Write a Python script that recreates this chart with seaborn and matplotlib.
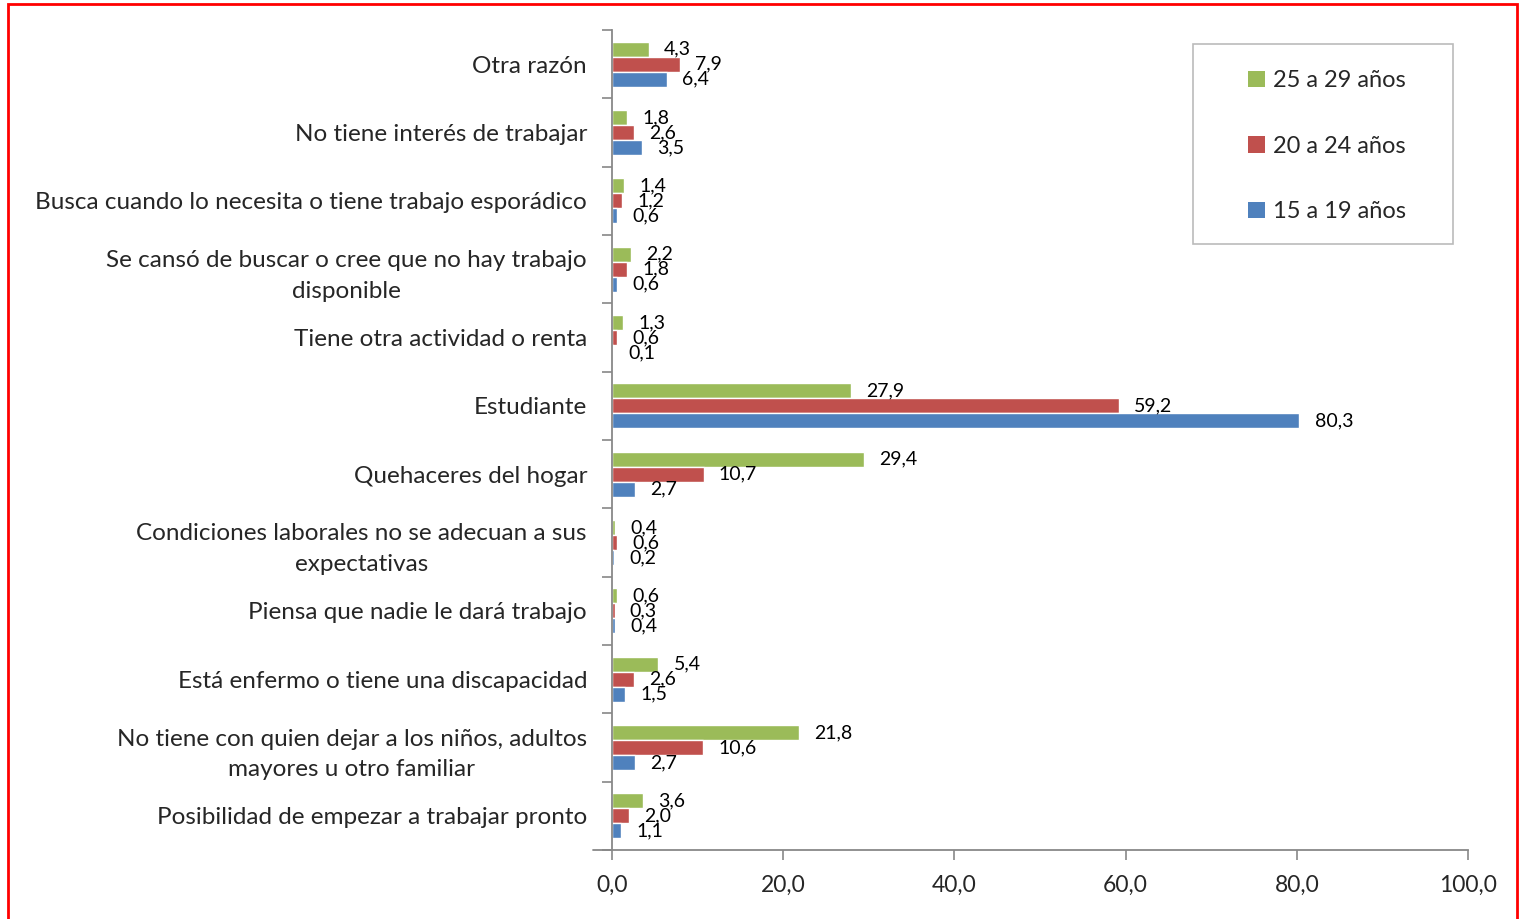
import pandas as pd
import numpy as np
import matplotlib.pyplot as plt
import seaborn as sns
from matplotlib.patches import Rectangle, Patch

sns.set_style("white")
plt.rcParams['font.family'] = ['Lato', 'DejaVu Sans']

# Data
categories = [
    "Otra razón",
    "No tiene interés de trabajar",
    "Busca cuando lo necesita o tiene trabajo esporádico",
    "Se cansó de buscar o cree que no hay trabajo\ndisponible",
    "Tiene otra actividad o renta",
    "Estudiante",
    "Quehaceres del hogar",
    "Condiciones laborales no se adecuan a sus\nexpectativas",
    "Piensa que nadie le dará trabajo",
    "Está enfermo o tiene una discapacidad",
    "No tiene con quien dejar a los niños, adultos\nmayores u otro familiar",
    "Posibilidad de empezar a trabajar pronto",
]
edad_25_29 = [4.3, 1.8, 1.4, 2.2, 1.3, 27.9, 29.4, 0.4, 0.6, 5.4, 21.8, 3.6]
edad_20_24 = [7.9, 2.6, 1.2, 1.8, 0.6, 59.2, 10.7, 0.6, 0.3, 2.6, 10.6, 2.0]
edad_15_19 = [6.4, 3.5, 0.6, 0.6, 0.1, 80.3, 2.7, 0.2, 0.4, 1.5, 2.7, 1.1]
groups = ["25 a 29 años", "20 a 24 años", "15 a 19 años"]
colors = ["#9BBB59", "#C0504D", "#4F81BD"]
xticks = [0, 20, 40, 60, 80, 100]

df = pd.DataFrame({
    "razon": categories * 3,
    "grupo": [groups[0]] * 12 + [groups[1]] * 12 + [groups[2]] * 12,
    "valor": edad_25_29 + edad_20_24 + edad_15_19,
})

fig = plt.figure(figsize=(15.19, 9.19), dpi=100)
ax = fig.add_axes([612 / 1519, 1 - 850 / 919, (1468 - 612) / 1519, (850 - 30) / 919])

sns.barplot(data=df, y="razon", x="valor", hue="grupo", hue_order=groups,
            order=categories, palette=colors, orient="h", width=0.66,
            saturation=1, legend=False, ax=ax)

for cont in ax.containers:
    labs = [f"{v:.1f}".replace(".", ",") for v in cont.datavalues]
    ax.bar_label(cont, labels=labs, padding=11, fontsize=14, color="black")

ax.set_xlim(0, 100)
ax.set_ylim(len(categories) - 0.5, -0.5)
ax.set_xticks(xticks)
ax.set_xticklabels([f"{t:.1f}".replace(".", ",") for t in xticks], fontsize=16.5)
ax.set_xlabel("")
ax.set_ylabel("")
ax.set_yticks(range(len(categories)))
ax.set_yticklabels(categories, fontsize=17.5, multialignment="center", linespacing=1.55)
ax.tick_params(axis="y", which="major", left=False, length=0, pad=18)
ax.set_yticks(np.arange(-0.5, len(categories) + 0.5, 1), minor=True)
ax.tick_params(axis="y", which="minor", left=True, length=7, width=1.2,
               color="#888888", direction="out")
ax.tick_params(axis="x", bottom=True, length=7, width=1.2, color="#888888",
               direction="out", pad=11)
for s in ["top", "right"]:
    ax.spines[s].set_visible(False)
for s in ["left", "bottom"]:
    ax.spines[s].set_color("#888888")
    ax.spines[s].set_linewidth(1.3)
# x axis line reaches a little past the y axis, as in the original
ax.plot([-2.2, 0], [len(categories) - 0.5] * 2, color="#888888", lw=1.3,
        clip_on=False)

# Legend in a plain box
fig.patches.append(Rectangle((1193 / 1519, 1 - 244 / 919), 260 / 1519, 200 / 919,
                             transform=fig.transFigure, fill=False,
                             edgecolor="#BBBBBB", linewidth=1.2))
handles = [Patch(facecolor=c, edgecolor="none") for c in colors]
fig.legend(handles, groups, loc="upper left",
           bbox_to_anchor=(1227 / 1519, 1 - 49 / 919), frameon=False,
           fontsize=17, handlelength=0.7, handleheight=0.7,
           handletextpad=0.35, labelspacing=1.88)

# Red outer border
fig.patches.append(Rectangle((8 / 1519, -0.01), 1509 / 1519, 1 - 4 / 919 + 0.01,
                             transform=fig.transFigure, fill=False,
                             edgecolor="red", linewidth=2))

plt.savefig("out.png", dpi=100)
